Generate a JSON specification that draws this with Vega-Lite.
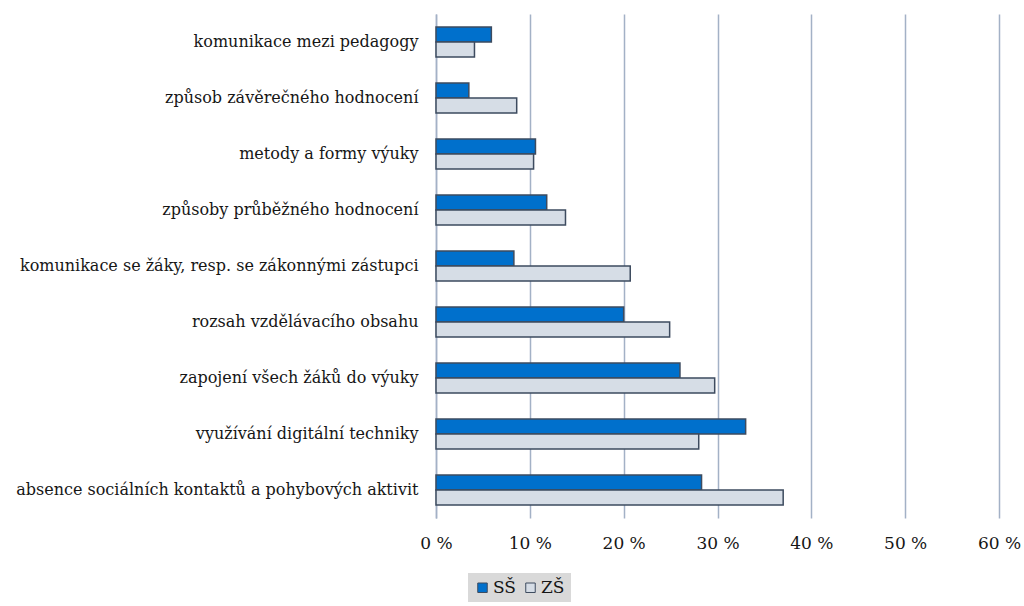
{
  "$schema": "https://vega.github.io/schema/vega-lite/v6.json",
  "autosize": "none",
  "width": 563,
  "height": 504,
  "padding": {"left": 436, "top": 14, "right": 25, "bottom": 88},
  "background": "white",
  "config": {
    "view": {"stroke": null},
    "font": "DejaVu Serif"
  },
  "data": {
    "values": [
      {"kategorie": "komunikace mezi pedagogy", "typ": "SŠ", "podil": 5.9},
      {"kategorie": "komunikace mezi pedagogy", "typ": "ZŠ", "podil": 4.1},
      {"kategorie": "způsob závěrečného hodnocení", "typ": "SŠ", "podil": 3.5},
      {"kategorie": "způsob závěrečného hodnocení", "typ": "ZŠ", "podil": 8.6},
      {"kategorie": "metody a formy výuky", "typ": "SŠ", "podil": 10.6},
      {"kategorie": "metody a formy výuky", "typ": "ZŠ", "podil": 10.4},
      {"kategorie": "způsoby průběžného hodnocení", "typ": "SŠ", "podil": 11.8},
      {"kategorie": "způsoby průběžného hodnocení", "typ": "ZŠ", "podil": 13.8},
      {"kategorie": "komunikace se žáky, resp. se zákonnými zástupci", "typ": "SŠ", "podil": 8.3},
      {"kategorie": "komunikace se žáky, resp. se zákonnými zástupci", "typ": "ZŠ", "podil": 20.7},
      {"kategorie": "rozsah vzdělávacího obsahu", "typ": "SŠ", "podil": 20.0},
      {"kategorie": "rozsah vzdělávacího obsahu", "typ": "ZŠ", "podil": 24.9},
      {"kategorie": "zapojení všech žáků do výuky", "typ": "SŠ", "podil": 26.0},
      {"kategorie": "zapojení všech žáků do výuky", "typ": "ZŠ", "podil": 29.7},
      {"kategorie": "využívání digitální techniky", "typ": "SŠ", "podil": 33.0},
      {"kategorie": "využívání digitální techniky", "typ": "ZŠ", "podil": 28.0},
      {"kategorie": "absence sociálních kontaktů a pohybových aktivit", "typ": "SŠ", "podil": 28.3},
      {"kategorie": "absence sociálních kontaktů a pohybových aktivit", "typ": "ZŠ", "podil": 37.0}
    ]
  },
  "mark": {"type": "bar", "stroke": "#3d4b5f", "strokeWidth": 1.5},
  "encoding": {
    "y": {
      "field": "kategorie",
      "type": "nominal",
      "sort": null,
      "scale": {"paddingInner": 0.46, "paddingOuter": 0.23},
      "axis": {
        "title": null,
        "ticks": false,
        "domainColor": "#a3b1c6",
        "domainWidth": 1.5,
        "labelFont": "DejaVu Serif",
        "labelFontSize": 16,
        "labelColor": "#161616",
        "labelPadding": 18,
        "labelLimit": 500
      }
    },
    "yOffset": {"field": "typ", "type": "nominal", "sort": ["SŠ", "ZŠ"]},
    "x": {
      "field": "podil",
      "type": "quantitative",
      "scale": {"domain": [0, 60], "nice": false},
      "axis": {
        "title": null,
        "values": [0, 10, 20, 30, 40, 50, 60],
        "labelExpr": "datum.value + ' %'",
        "labelFlush": false,
        "labelOverlap": false,
        "domain": false,
        "ticks": false,
        "grid": true,
        "gridColor": "#a3b1c6",
        "gridWidth": 1.5,
        "labelFont": "DejaVu Serif",
        "labelFontSize": 17,
        "labelColor": "#161616",
        "labelPadding": 17
      }
    },
    "color": {
      "field": "typ",
      "type": "nominal",
      "scale": {"domain": ["SŠ", "ZŠ"], "range": ["#0070cc", "#d6dde6"]},
      "legend": {
        "title": null,
        "orient": "none",
        "legendX": 32,
        "legendY": 559,
        "direction": "horizontal",
        "fillColor": "#d9d9d9",
        "padding": 6,
        "symbolType": "square",
        "symbolSize": 90,
        "symbolStrokeColor": "#3d4b5f",
        "symbolStrokeWidth": 1,
        "labelFont": "DejaVu Serif",
        "labelFontSize": 17,
        "labelColor": "#161616",
        "columnPadding": 6,
        "labelOffset": 2
      }
    }
  }
}
